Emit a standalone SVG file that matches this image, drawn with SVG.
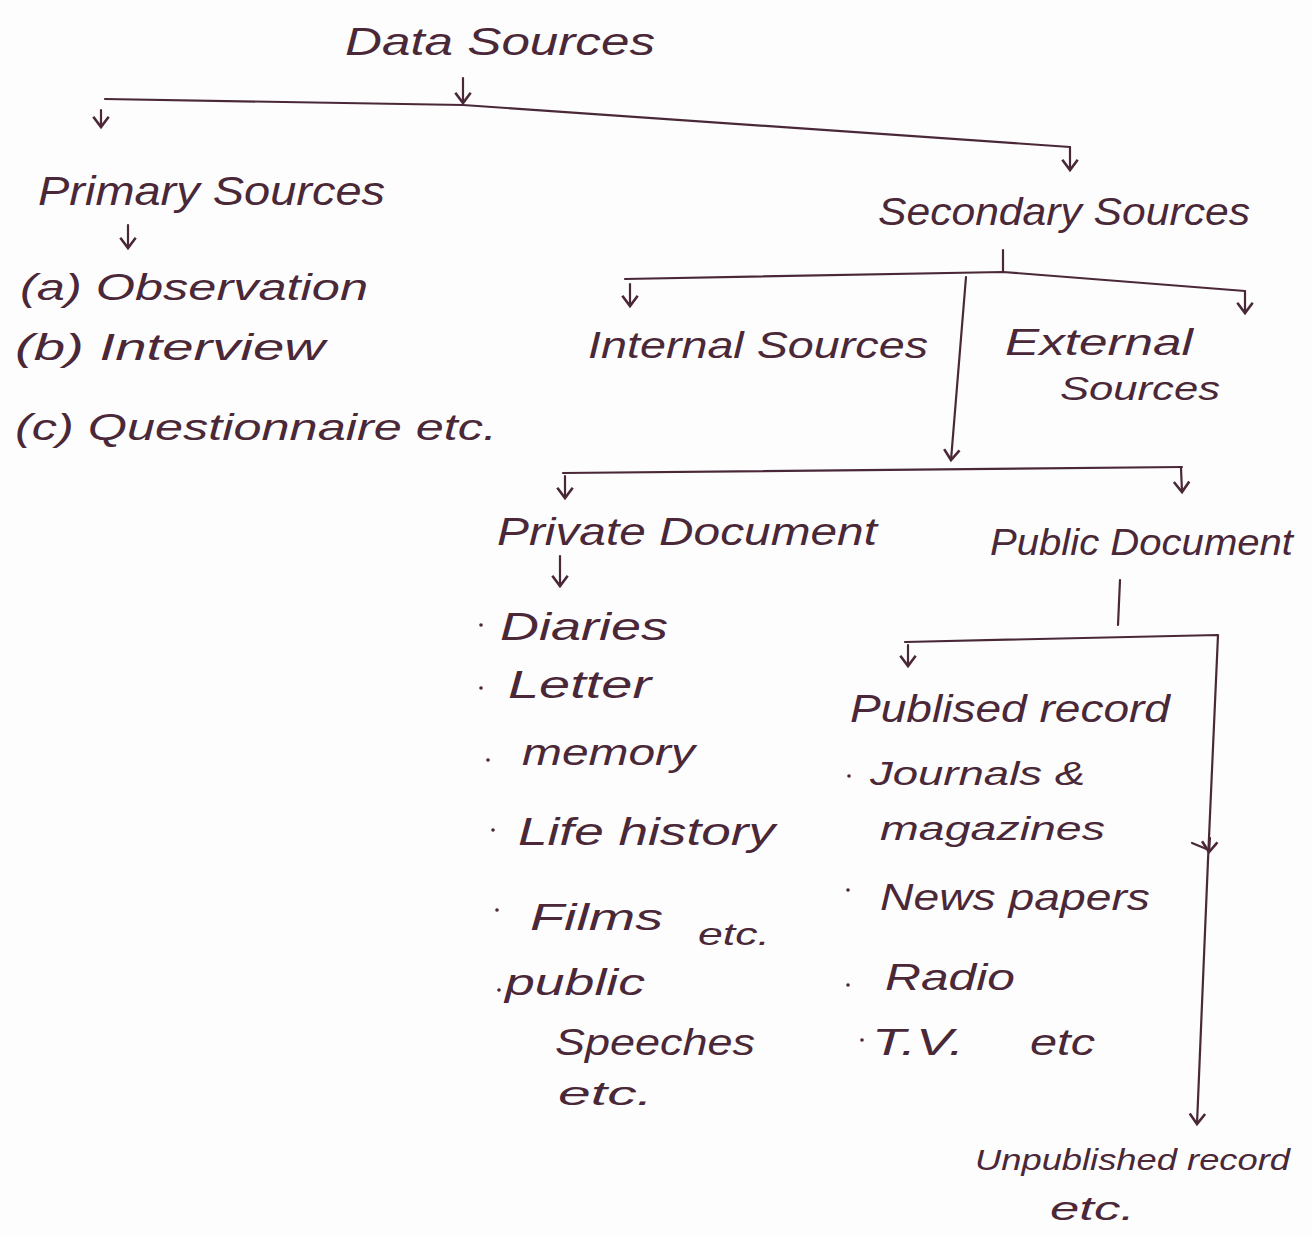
<svg xmlns="http://www.w3.org/2000/svg" width="1312" height="1236" viewBox="0 0 1312 1236">
<defs>
<style>
.t{font-family:"Liberation Sans","DejaVu Sans",sans-serif;fill:#4a2838;font-style:italic}
.c{fill:none;stroke:#4a2838;stroke-width:2.2;stroke-linecap:round;stroke-linejoin:round}
.b{fill:#4a2838}
</style>
<marker id="ah" viewBox="-10 -7 12 14" refX="0" refY="0" markerWidth="16" markerHeight="18" markerUnits="userSpaceOnUse" orient="auto">
<path d="M-8,-6 L0,0 L-8,6" fill="none" stroke="#4a2838" stroke-width="2"/>
</marker>
</defs>
<rect width="1312" height="1236" fill="#fdfdfd"/>
<g id="connectors">
<path class="c" d="M463,78 L463,103" marker-end="url(#ah)"/>
<path class="c" d="M105,99 L463,105 L1070,147"/>
<path class="c" d="M101,110 L101,127" marker-end="url(#ah)"/>
<path class="c" d="M1070,147 L1070,170" marker-end="url(#ah)"/>
<path class="c" d="M128,225 L128,248" marker-end="url(#ah)"/>
<path class="c" d="M1003,250 L1003,272"/>
<path class="c" d="M625,279 L1003,272 L1245,291"/>
<path class="c" d="M630,284 L630,306" marker-end="url(#ah)"/>
<path class="c" d="M1245,291 L1245,313" marker-end="url(#ah)"/>
<path class="c" d="M966,277 L951,460" marker-end="url(#ah)"/>
<path class="c" d="M563,473 L1182,467"/>
<path class="c" d="M565,476 L565,498" marker-end="url(#ah)"/>
<path class="c" d="M1181,468 L1182,492" marker-end="url(#ah)"/>
<path class="c" d="M560,556 L560,586" marker-end="url(#ah)"/>
<path class="c" d="M1120,580 L1118,625"/>
<path class="c" d="M905,642 L1218,635 L1208,860 L1197,1124" marker-end="url(#ah)"/>
<path class="c" d="M908,645 L908,666" marker-end="url(#ah)"/>
<path class="c" d="M1192,843 L1209,850"/>
<path class="c" d="M1210,838 L1209,852" marker-end="url(#ah)"/>
</g>
<g id="data-sources"><text class="t" x="345" y="55" font-size="38" textLength="310" lengthAdjust="spacingAndGlyphs">Data Sources</text></g>
<g id="primary-sources"><text class="t" x="38" y="205" font-size="40" textLength="347" lengthAdjust="spacingAndGlyphs">Primary Sources</text></g>
<g id="primary-list">
<text class="t" x="20" y="300" font-size="36" textLength="348" lengthAdjust="spacingAndGlyphs">(a) Observation</text>
<text class="t" x="15" y="360" font-size="36" textLength="310" lengthAdjust="spacingAndGlyphs">(b) Interview</text>
<text class="t" x="15" y="440" font-size="36" textLength="482" lengthAdjust="spacingAndGlyphs">(c) Questionnaire etc.</text>
</g>
<g id="secondary-sources"><text class="t" x="878" y="225" font-size="38" textLength="372" lengthAdjust="spacingAndGlyphs">Secondary Sources</text></g>
<g id="internal-sources"><text class="t" x="588" y="358" font-size="36" textLength="340" lengthAdjust="spacingAndGlyphs">Internal Sources</text></g>
<g id="external-sources">
<text class="t" x="1005" y="355" font-size="36" textLength="188" lengthAdjust="spacingAndGlyphs">External</text>
<text class="t" x="1060" y="400" font-size="34" textLength="160" lengthAdjust="spacingAndGlyphs">Sources</text>
</g>
<g id="private-document"><text class="t" x="497" y="545" font-size="38" textLength="380" lengthAdjust="spacingAndGlyphs">Private Document</text></g>
<g id="public-document"><text class="t" x="990" y="555" font-size="36" textLength="303" lengthAdjust="spacingAndGlyphs">Public Document</text></g>
<g id="private-list">
<circle class="b" cx="481" cy="625" r="1.8"/>
<text class="t" x="500" y="640" font-size="38" textLength="168" lengthAdjust="spacingAndGlyphs">Diaries</text>
<circle class="b" cx="481" cy="688" r="1.8"/>
<text class="t" x="508" y="698" font-size="38" textLength="143" lengthAdjust="spacingAndGlyphs">Letter</text>
<circle class="b" cx="488" cy="760" r="1.8"/>
<text class="t" x="522" y="765" font-size="36" textLength="173" lengthAdjust="spacingAndGlyphs">memory</text>
<circle class="b" cx="493" cy="830" r="1.8"/>
<text class="t" x="518" y="845" font-size="38" textLength="257" lengthAdjust="spacingAndGlyphs">Life history</text>
<circle class="b" cx="497" cy="910" r="1.8"/>
<text class="t" x="530" y="930" font-size="36" textLength="133" lengthAdjust="spacingAndGlyphs">Films</text>
<text class="t" x="698" y="945" font-size="32" textLength="72" lengthAdjust="spacingAndGlyphs">etc.</text>
<circle class="b" cx="499" cy="990" r="1.8"/>
<text class="t" x="505" y="995" font-size="36" textLength="140" lengthAdjust="spacingAndGlyphs">public</text>
<text class="t" x="555" y="1055" font-size="36" textLength="200" lengthAdjust="spacingAndGlyphs">Speeches</text>
<text class="t" x="558" y="1105" font-size="34" textLength="95" lengthAdjust="spacingAndGlyphs">etc.</text>
</g>
<g id="published-record">
<text class="t" x="850" y="722" font-size="38" textLength="320" lengthAdjust="spacingAndGlyphs">Publised record</text>
<circle class="b" cx="849" cy="776" r="1.8"/>
<text class="t" x="870" y="785" font-size="34" textLength="215" lengthAdjust="spacingAndGlyphs">Journals &amp;</text>
<text class="t" x="880" y="840" font-size="34" textLength="225" lengthAdjust="spacingAndGlyphs">magazines</text>
<circle class="b" cx="848" cy="890" r="1.8"/>
<text class="t" x="880" y="910" font-size="36" textLength="270" lengthAdjust="spacingAndGlyphs">News papers</text>
<circle class="b" cx="848" cy="985" r="1.8"/>
<text class="t" x="885" y="990" font-size="36" textLength="130" lengthAdjust="spacingAndGlyphs">Radio</text>
<circle class="b" cx="862" cy="1040" r="1.8"/>
<text class="t" x="872" y="1055" font-size="36" textLength="92" lengthAdjust="spacingAndGlyphs">T.V.</text>
<text class="t" x="1030" y="1055" font-size="36" textLength="65" lengthAdjust="spacingAndGlyphs">etc</text>
</g>
<g id="unpublished-record">
<text class="t" x="975" y="1170" font-size="30" textLength="315" lengthAdjust="spacingAndGlyphs">Unpublished record</text>
<text class="t" x="1050" y="1220" font-size="34" textLength="85" lengthAdjust="spacingAndGlyphs">etc.</text>
</g>
</svg>
